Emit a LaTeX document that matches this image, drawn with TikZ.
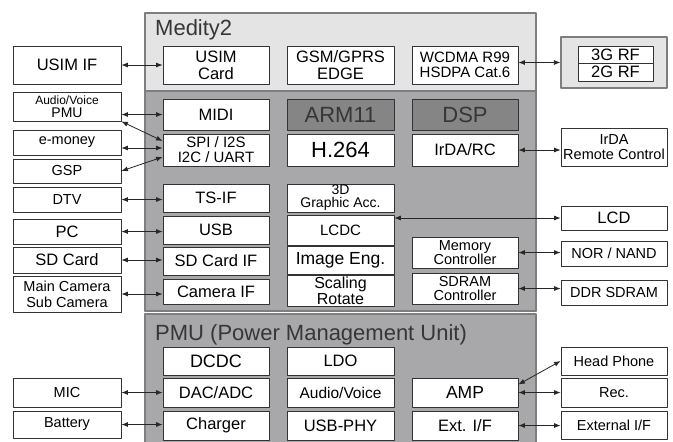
\documentclass[tikz,border=0pt]{standalone}
\usepackage{fontspec}
\setmainfont{Liberation Sans}
\usetikzlibrary{arrows.meta,positioning}

\definecolor{chiplight}{HTML}{E4E4E4}
\definecolor{chipmid}{HTML}{A8A8AA}
\definecolor{chipdark}{HTML}{858585}
\definecolor{chipedge}{HTML}{7E7E7E}
\definecolor{titlegray}{HTML}{363636}

\newcommand{\fsTiny}{\fontsize{12}{11}\selectfont}
\newcommand{\fsSmall}{\fontsize{14.5}{13.5}\selectfont}
\newcommand{\fsMid}{\fontsize{16.5}{15}\selectfont}
\newcommand{\fsBig}{\fontsize{22}{22}\selectfont}

\begin{document}
\begin{tikzpicture}[x=1pt,y=-1pt,line cap=round,line join=round,
  blk/.style={draw=black!80,fill=white,line width=0.8pt,inner sep=0pt,align=center,font=\fsMid},
  ht/.style={minimum height=#1pt},
  colL/.style={blk,minimum width=108pt,font=\fsSmall},
  colA/.style={blk,minimum width=106pt},
  colB/.style={blk,minimum width=107pt},
  colC/.style={blk,minimum width=106pt},
  colR/.style={blk,minimum width=106pt,font=\fsSmall},
  core/.style={fill=chipdark,text=titlegray,font=\fsBig},
  title/.style={anchor=base west,inner sep=0pt,text=titlegray,font=\fsBig},
  link/.style={{Latex[length=6.5pt,width=5pt]}-{Latex[length=6.5pt,width=5pt]},line width=0.8pt,black!85}]

\useasboundingbox (0,0) rectangle (673,442);

% chip regions
\draw[fill=chiplight,draw=chipedge,line width=2pt] (145,13) rectangle (536,311);
\draw[fill=chipmid,draw=chipedge,line width=2pt] (145,91) rectangle (536,311);
\draw[fill=chipmid,draw=chipedge,line width=2pt] (145,314) rectangle (536,460);
\node[title] (medity) at (155,35) {Medity2};
\node[title] (pmutitle) at (155,340) {PMU (Power Management Unit)};

% left column
\node[colL,ht=38,font=\fsMid] (usimif) at (67,65) {USIM IF};
\node[colL,ht=29,font=\fsTiny] (avpmu) at (67,106.5) {Audio/Voice\\[1.5pt]{\fontsize{14}{13}\selectfont PMU}};
\node[colL,ht=25] (emoney) at (67,142.5) {e-money};
\node[colL,ht=24] (gsp) at (67,171) {GSP};
\node[colL,ht=25] (dtv) at (67,199.5) {DTV};
\node[colL,ht=25,font=\fsMid] (pc) at (67,231.5) {PC};
\node[colL,ht=26,font=\fsMid] (sdcard) at (67,260) {SD Card};
\node[colL,ht=36,font=\fontsize{14.5}{16}\selectfont] (cam) at (67,294) {Main Camera\\Sub Camera};
\node[colL,ht=29] (mic) at (67,392.5) {MIC};
\node[colL,ht=27] (battery) at (67,424.5) {Battery};

% column 1
\node[colA,ht=38,font=\fontsize{16.5}{17}\selectfont] (usimcard) at (216,65) {USIM\\Card};
\node[colA,ht=31] (midi) at (216,114.5) {MIDI};
\node[colA,ht=32,font=\fontsize{15}{15}\selectfont] (spi) at (216,150) {SPI / I2S\\I2C / UART};
\node[colA,ht=28] (tsif) at (216,198) {TS-IF};
\node[colA,ht=28] (usb) at (216,230) {USB};
\node[colA,ht=28] (sdif) at (216,261) {SD Card IF};
\node[colA,ht=25] (camif) at (216,291.5) {Camera IF};
\node[colA,ht=28,font=\fontsize{18}{18}\selectfont] (dcdc) at (216,361) {DCDC};
\node[colA,ht=29] (dac) at (216,392.5) {DAC/ADC};
\node[colA,ht=29] (charger) at (216,425.5) {Charger};

% column 2
\node[colB,ht=38,font=\fontsize{16.5}{17}\selectfont] (gsm) at (340.5,65) {GSM/GPRS\\EDGE};
\node[colB,ht=31,core] (arm) at (340.5,114.5) {ARM11};
\node[colB,ht=32,font=\fsBig] (h264) at (340.5,150) {H.264};
\node[colB,ht=28,font=\fontsize{14}{13}\selectfont] (gfx) at (340.5,198) {3D\\Graphic Acc.};
\node[colB,ht=30,below=3pt of gfx,font=\fontsize{15}{15}\selectfont] (lcdc) {LCDC};
\node[colB,ht=28,below=0pt of lcdc,font=\fontsize{17.5}{17}\selectfont] (imgeng) {Image Eng.};
\node[colB,ht=31,below=0pt of imgeng,font=\fontsize{16}{13.5}\selectfont] (scaling) {Scaling\\Rotate};
\node[colB,ht=28] (ldo) at (340.5,361) {LDO};
\node[colB,ht=29,font=\fontsize{15.5}{15}\selectfont] (audio) at (340.5,392.5) {Audio/Voice};
\node[colB,ht=29] (usbphy) at (340.5,425.5) {USB-PHY};

% column 3
\node[colC,ht=38,font=\fontsize{15}{15}\selectfont] (wcdma) at (465,65) {WCDMA R99\\HSDPA Cat.6};
\node[colC,ht=31,core] (dsp) at (465,114.5) {DSP};
\node[colC,ht=32] (irdarc) at (465,150) {IrDA/RC};
\node[colC,ht=31,font=\fontsize{14.5}{13.5}\selectfont] (memctl) at (465,252.5) {Memory\\Controller};
\node[colC,ht=31,font=\fontsize{14.5}{13.5}\selectfont] (sdramctl) at (465,288.5) {SDRAM\\Controller};
\node[colC,ht=29,font=\fontsize{17.5}{17}\selectfont] (amp) at (465,392.5) {AMP};
\node[colC,ht=29] (extif) at (465,425.5) {Ext. I/F};

% right column
\node[colR,ht=51,fill=chiplight,draw=chipedge,line width=1.2pt] (rf) at (614,62.5) {};
\node[blk,minimum width=75pt,ht=17] (rfthree) at (615.5,54.5) {3G RF};
\node[blk,minimum width=75pt,ht=18] (rftwo) at (615.5,72) {2G RF};
\node[colR,ht=38,font=\fontsize{14.5}{15}\selectfont] (irda) at (614,147) {IrDA\\Remote Control};
\node[colR,ht=24,font=\fsMid] (lcd) at (614,218) {LCD};
\node[colR,ht=25] (nor) at (614,253.5) {NOR / NAND};
\node[colR,ht=25] (ddr) at (614,292.5) {DDR SDRAM};
\node[colR,ht=28] (hp) at (614,361) {Head Phone};
\node[colR,ht=29] (rec) at (614,392.5) {Rec.};
\node[colR,ht=28] (extf) at (614,425) {External I/F};

% connectors, left side
\coordinate (spiE) at ([yshift=2pt]spi.west);
\draw[link] (usimif.east) -- (usimcard.west);
\draw[link] (avpmu.east |- midi.west) -- (midi.west);
\draw[link] (avpmu.south east) -- ([yshift=9pt]spi.west);
\draw[link] (emoney.east |- spiE) -- (spiE);
\draw[link] (gsp.east) -- ([yshift=-7pt]spi.west);
\draw[link] (dtv.east) -- (dtv.east -| tsif.west);
\draw[link] (pc.east) -- (pc.east -| usb.west);
\draw[link] (sdcard.east) -- (sdcard.east -| sdif.west);
\draw[link] (cam.east) -- (cam.east -| camif.west);
\draw[link] (mic.east) -- (mic.east -| dac.west);
\draw[link] (battery.east) -- (battery.east -| charger.west);

% connectors, right side
\draw[link] (rf.west -| wcdma.east) -- (rf.west);
\draw[link] (irdarc.east) -- (irdarc.east -| irda.west);
\draw[link] (lcd.west) -- (lcd.west -| lcdc.east);
\draw[link] (memctl.east) -- (memctl.east -| nor.west);
\draw[link] (sdramctl.east) -- (sdramctl.east -| ddr.west);
\draw[link] (hp.west) -- ([yshift=8pt]amp.east);
\draw[link] (amp.east) -- (amp.east -| rec.west);
\draw[link] (extif.east) -- (extif.east -| extf.west);

\end{tikzpicture}
\end{document}
